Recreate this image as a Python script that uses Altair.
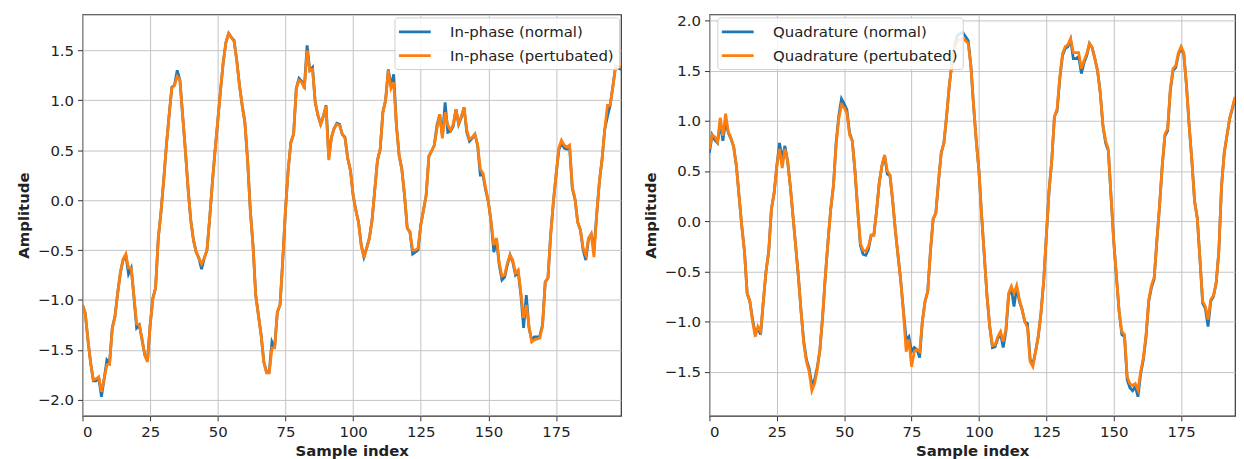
import altair as alt
import pandas as pd

# In-phase (left panel), samples 0..199
i_normal = [
    -1.05, -1.13, -1.40, -1.63, -1.81, -1.81, -1.78, -1.97, -1.79, -1.60,
    -1.63, -1.28, -1.16, -0.93, -0.73, -0.60, -0.55, -0.74, -0.68, -0.97,
    -1.28, -1.25, -1.40, -1.55, -1.61, -1.25, -0.98, -0.88, -0.38, -0.12,
    0.20, 0.55, 0.85, 1.13, 1.15, 1.30, 1.20, 0.85, 0.50, 0.12,
    -0.20, -0.40, -0.52, -0.58, -0.69, -0.58, -0.50, -0.18, 0.18, 0.50,
    0.80, 1.10, 1.38, 1.58, 1.67, 1.63, 1.60, 1.40, 1.15, 0.95,
    0.78, 0.40, -0.10, -0.45, -0.95, -1.15, -1.35, -1.62, -1.72, -1.72,
    -1.42, -1.48, -1.12, -1.05, -0.60, -0.10, 0.30, 0.58, 0.66, 1.12,
    1.22, 1.19, 1.14, 1.55, 1.30, 1.33, 0.98, 0.85, 0.76, 0.84,
    0.95, 0.43, 0.63, 0.72, 0.77, 0.76, 0.66, 0.63, 0.42, 0.30,
    0.05, -0.10, -0.22, -0.45, -0.57, -0.48, -0.38, -0.20, 0.10, 0.40,
    0.51, 0.88, 1.00, 1.31, 1.14, 1.26, 0.75, 0.45, 0.31, 0.05,
    -0.28, -0.32, -0.54, -0.52, -0.50, -0.25, -0.10, 0.05, 0.44, 0.49,
    0.55, 0.75, 0.86, 0.64, 0.98, 0.68, 0.69, 0.74, 0.91, 0.76,
    0.83, 0.93, 0.68, 0.59, 0.62, 0.66, 0.55, 0.25, 0.25, 0.10,
    -0.02, -0.22, -0.52, -0.40, -0.65, -0.80, -0.77, -0.65, -0.55, -0.62,
    -0.75, -0.72, -0.95, -1.28, -0.95, -1.28, -1.40, -1.37, -1.37, -1.36,
    -1.25, -0.82, -0.78, -0.35, -0.02, 0.25, 0.50, 0.58, 0.52, 0.51,
    0.53, 0.12, 0.01, -0.22, -0.30, -0.50, -0.60, -0.39, -0.34, -0.50,
    -0.15, 0.18, 0.41, 0.71, 0.84, 0.95, 1.14, 1.34, 1.32, 1.31,
]
i_pert = [
    -1.05, -1.13, -1.40, -1.63, -1.80, -1.79, -1.77, -1.92, -1.79, -1.65,
    -1.64, -1.28, -1.17, -0.93, -0.72, -0.59, -0.54, -0.68, -0.68, -0.96,
    -1.24, -1.25, -1.39, -1.55, -1.62, -1.25, -0.99, -0.88, -0.38, -0.12,
    0.20, 0.55, 0.85, 1.12, 1.15, 1.24, 1.20, 0.85, 0.50, 0.12,
    -0.20, -0.40, -0.52, -0.58, -0.64, -0.58, -0.50, -0.18, 0.18, 0.50,
    0.80, 1.10, 1.38, 1.58, 1.67, 1.63, 1.59, 1.40, 1.15, 0.95,
    0.78, 0.40, -0.10, -0.45, -0.95, -1.15, -1.35, -1.62, -1.73, -1.73,
    -1.48, -1.48, -1.12, -1.05, -0.60, -0.10, 0.30, 0.58, 0.66, 1.12,
    1.20, 1.18, 1.12, 1.50, 1.30, 1.31, 0.98, 0.85, 0.76, 0.84,
    0.94, 0.40, 0.63, 0.72, 0.76, 0.75, 0.66, 0.62, 0.42, 0.30,
    0.05, -0.10, -0.22, -0.45, -0.58, -0.48, -0.38, -0.20, 0.10, 0.40,
    0.51, 0.88, 1.00, 1.30, 1.12, 1.18, 0.75, 0.45, 0.31, 0.05,
    -0.28, -0.32, -0.50, -0.50, -0.48, -0.25, -0.10, 0.05, 0.44, 0.49,
    0.55, 0.72, 0.86, 0.62, 0.88, 0.75, 0.70, 0.76, 0.91, 0.77,
    0.84, 0.93, 0.70, 0.61, 0.63, 0.66, 0.56, 0.31, 0.27, 0.12,
    -0.02, -0.22, -0.45, -0.38, -0.63, -0.76, -0.75, -0.63, -0.55, -0.60,
    -0.73, -0.70, -0.93, -1.18, -1.05, -1.26, -1.42, -1.40, -1.39, -1.38,
    -1.26, -0.82, -0.78, -0.35, -0.02, 0.25, 0.52, 0.60, 0.55, 0.53,
    0.55, 0.13, 0.01, -0.22, -0.30, -0.48, -0.55, -0.38, -0.34, -0.57,
    -0.15, 0.18, 0.41, 0.71, 0.95, 0.95, 1.14, 1.34, 1.34, 1.33,
]

# Quadrature (right panel), samples 0..195 (panel is cut at the page edge)
q_normal = [
    0.68, 0.86, 0.81, 0.78, 0.98, 0.80, 1.00, 0.88, 0.82, 0.74,
    0.55, 0.25, -0.05, -0.30, -0.72, -0.80, -0.98, -1.12, -1.07, -1.13,
    -0.80, -0.50, -0.30, 0.12, 0.28, 0.55, 0.78, 0.62, 0.75, 0.60,
    0.35, 0.05, -0.25, -0.55, -0.90, -1.20, -1.38, -1.47, -1.63, -1.58,
    -1.46, -1.28, -0.95, -0.55, -0.20, 0.12, 0.35, 0.78, 1.05, 1.22,
    1.17, 1.11, 0.88, 0.80, 0.50, 0.12, -0.24, -0.33, -0.34, -0.28,
    -0.14, -0.14, 0.10, 0.38, 0.55, 0.65, 0.47, 0.45, 0.20, -0.10,
    -0.35, -0.60, -0.90, -1.18, -1.15, -1.30, -1.26, -1.28, -1.36, -1.00,
    -0.80, -0.70, -0.30, 0.02, 0.08, 0.40, 0.68, 0.78, 1.05, 1.35,
    1.58, 1.75, 1.85, 1.87, 1.88, 1.84, 1.80, 1.55, 1.15, 0.80,
    0.50, 0.05, -0.35, -0.75, -1.05, -1.26, -1.25, -1.17, -1.12, -1.26,
    -1.10, -0.74, -0.67, -0.85, -0.66, -0.80, -0.88, -1.00, -1.02, -1.38,
    -1.43, -1.30, -1.15, -0.92, -0.60, -0.15, 0.30, 0.60, 1.04, 1.10,
    1.42, 1.65, 1.72, 1.74, 1.81, 1.62, 1.62, 1.64, 1.47, 1.58,
    1.65, 1.77, 1.73, 1.62, 1.50, 1.28, 0.95, 0.78, 0.70, 0.25,
    -0.20, -0.55, -0.90, -1.13, -1.15, -1.58, -1.66, -1.69, -1.65, -1.75,
    -1.52, -1.38, -1.15, -0.80, -0.66, -0.58, -0.20, 0.15, 0.55, 0.85,
    0.90, 1.30, 1.50, 1.53, 1.66, 1.73, 1.66, 1.35, 0.95, 0.60,
    0.20, 0.03, -0.38, -0.82, -0.87, -1.05, -0.80, -0.75, -0.62, -0.30,
    0.35, 0.68, 0.85, 1.02, 1.12, 1.22,
]
q_pert = [
    0.72, 0.86, 0.84, 0.79, 1.03, 0.85, 1.07, 0.89, 0.83, 0.74,
    0.55, 0.25, -0.05, -0.30, -0.72, -0.80, -1.00, -1.15, -1.05, -1.10,
    -0.80, -0.50, -0.30, 0.12, 0.28, 0.55, 0.72, 0.53, 0.72, 0.60,
    0.35, 0.05, -0.25, -0.55, -0.90, -1.22, -1.40, -1.50, -1.69, -1.62,
    -1.48, -1.28, -0.95, -0.55, -0.20, 0.12, 0.35, 0.76, 1.02, 1.16,
    1.13, 1.08, 0.86, 0.80, 0.50, 0.12, -0.22, -0.29, -0.30, -0.25,
    -0.14, -0.14, 0.10, 0.38, 0.56, 0.66, 0.50, 0.46, 0.20, -0.10,
    -0.35, -0.60, -0.92, -1.30, -1.18, -1.45, -1.30, -1.28, -1.30, -1.00,
    -0.80, -0.70, -0.30, 0.02, 0.08, 0.40, 0.68, 0.78, 1.05, 1.35,
    1.58, 1.73, 1.80, 1.81, 1.82, 1.80, 1.77, 1.55, 1.15, 0.80,
    0.50, 0.05, -0.35, -0.75, -1.05, -1.24, -1.23, -1.15, -1.10, -1.20,
    -1.08, -0.72, -0.65, -0.72, -0.64, -0.78, -0.88, -1.00, -1.06, -1.40,
    -1.45, -1.30, -1.15, -0.92, -0.60, -0.15, 0.30, 0.60, 1.04, 1.12,
    1.44, 1.67, 1.74, 1.76, 1.82, 1.68, 1.68, 1.68, 1.52, 1.60,
    1.67, 1.77, 1.73, 1.62, 1.50, 1.28, 0.95, 0.80, 0.72, 0.25,
    -0.20, -0.55, -0.90, -1.10, -1.13, -1.55, -1.62, -1.64, -1.62, -1.68,
    -1.50, -1.36, -1.13, -0.78, -0.64, -0.56, -0.20, 0.15, 0.55, 0.87,
    0.92, 1.32, 1.52, 1.55, 1.68, 1.74, 1.68, 1.35, 0.95, 0.60,
    0.20, 0.03, -0.38, -0.80, -0.85, -0.98, -0.78, -0.74, -0.62, -0.30,
    0.35, 0.68, 0.85, 1.02, 1.13, 1.24,
]

i_names = ["In-phase (normal)", "In-phase (pertubated)"]
q_names = ["Quadrature (normal)", "Quadrature (pertubated)"]
x_ticks = [0, 25, 50, 75, 100, 125, 150, 175]
i_yticks = [-2.0, -1.5, -1.0, -0.5, 0.0, 0.5, 1.0, 1.5]
q_yticks = [-1.5, -1.0, -0.5, 0.0, 0.5, 1.0, 1.5, 2.0]

BLUE = "#1f77b4"
ORANGE = "#ff7f0e"
FONT = "DejaVu Sans"


def panel(normal, pert, names, xmax, width, ydomain, yticks, lx, ly):
    n = len(normal)
    df = pd.DataFrame({
        "idx": list(range(n)) * 2,
        "amp": normal + pert,
        "series": [names[0]] * n + [names[1]] * n,
    })
    color = alt.Color(
        "series:N",
        scale=alt.Scale(domain=names, range=[BLUE, ORANGE]),
        legend=alt.Legend(
            title=None, orient="none", legendX=lx, legendY=ly,
            symbolType="M-2,0H2", symbolSize=256, symbolStrokeWidth=2.8,
            symbolOffset=6, labelOffset=26, labelLimit=0,
            labelFontSize=15, labelFont=FONT, labelColor="#222222",
            rowPadding=6, padding=5,
            fillColor="rgba(255,255,255,0.85)", strokeColor="#d0d0d0",
            cornerRadius=3,
        ),
    )
    x = alt.X("idx:Q", title="Sample index",
              scale=alt.Scale(domain=[0, xmax], nice=False, zero=False),
              axis=alt.Axis(values=x_ticks, format="d"))
    y = alt.Y("amp:Q", title="Amplitude",
              scale=alt.Scale(domain=ydomain, nice=False, zero=False),
              axis=alt.Axis(values=yticks, format=".1f"))
    base = alt.Chart(df).mark_line(strokeWidth=2.8, clip=True).encode(
        x=x, y=y, color=color)
    blue = base.transform_filter(alt.datum.series == names[0])
    orange = base.transform_filter(alt.datum.series == names[1])
    return alt.layer(blue, orange).properties(width=width, height=404)


left = panel(i_normal, i_pert, i_names, 199, 542, [-2.16, 1.86], i_yticks, 314, 3)
right = panel(q_normal, q_pert, q_names, 195, 529, [-1.94, 2.06], q_yticks, 8, 3)

chart = alt.hconcat(left, right, spacing=20).resolve_scale(color="independent").properties(
    padding={"left": 7, "top": 3, "right": 0, "bottom": 0}
).configure_view(
    stroke="#333333", strokeWidth=1.2
).configure_axis(
    domain=False, tickColor="#333333", tickSize=5, tickWidth=1,
    labelFont=FONT, labelFontSize=15, labelColor="#222222", labelPadding=4,
    titleFont=FONT, titleFontSize=15, titleFontWeight="bold", titleColor="#222222",
    gridColor="#c4c4c4", gridWidth=1,
).configure_axisX(titlePadding=4).configure_axisY(titlePadding=6)

chart.save("out.html", embed_options={"renderer": "svg", "actions": False})
